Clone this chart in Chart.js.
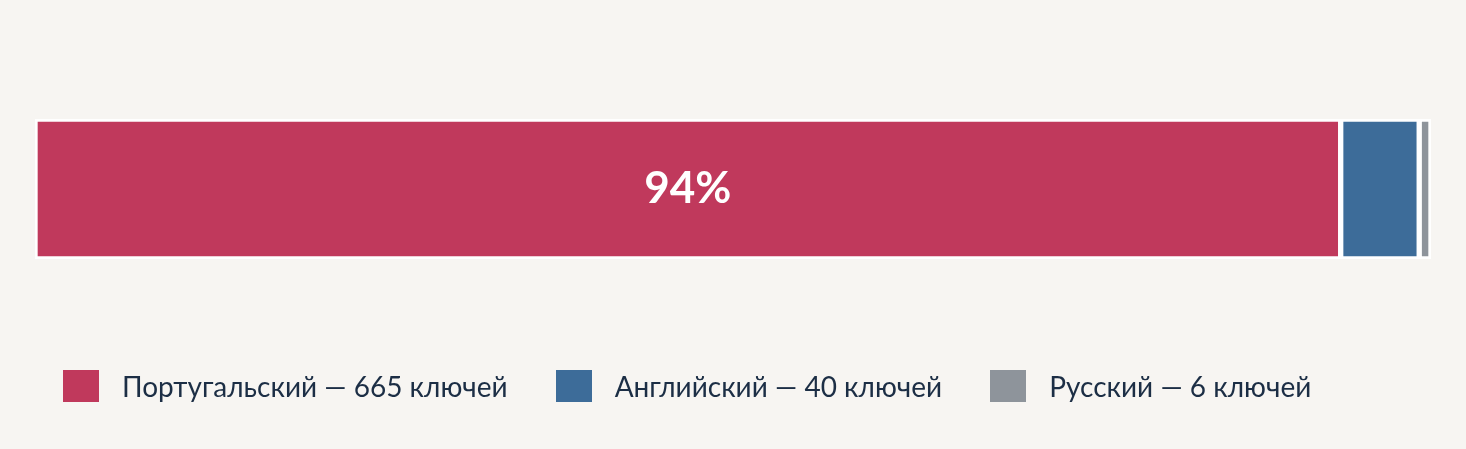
<!DOCTYPE html>
<html>
<head>
<meta charset="utf-8">
<script src="https://cdn.jsdelivr.net/npm/chart.js@4.4.1/dist/chart.umd.min.js"></script>
<style>
  html, body { margin: 0; padding: 0; background: #f7f5f2; }
  #wrap { position: relative; width: 1466px; height: 449px; }
  #legend { position: absolute; left: 63px; top: 369px; display: flex; align-items: center;
    font-family: Lato, sans-serif; font-size: 28px; color: #1c2e45; }
  #legend .item { display: flex; align-items: center; margin-right: 48px; white-space: nowrap; }
  #legend .box { width: 36px; height: 32px; margin-right: 23px; }
</style>
</head>
<body>
<div id="wrap">
  <canvas id="chart" width="1466" height="449"></canvas>
  <div id="legend"></div>
</div>
<script>
const languages = ['Португальский', 'Английский', 'Русский']
const keyCounts = [665, 40, 6]
const colors = ['#c0395c', '#3d6c99', '#8e949b']
const total = keyCounts.reduce((a, b) => a + b, 0)

// percent label inside the big segment
const pctLabels = {
  id: 'pctLabels',
  afterDatasetsDraw(chart) {
    const ctx = chart.ctx
    chart.data.datasets.forEach((ds, i) => {
      const pct = Math.round(ds.data[0] / total * 100)
      if (pct < 10) return
      const bar = chart.getDatasetMeta(i).data[0]
      const { x, base, y } = bar.getProps(['x', 'base', 'y'], true)
      ctx.save()
      ctx.fillStyle = '#ffffff'
      ctx.font = 'bold 44px Lato, sans-serif'
      ctx.textAlign = 'center'
      ctx.textBaseline = 'middle'
      ctx.fillText(pct + '%', (x + base) / 2, y)
      ctx.restore()
    })
  }
}

const ctx = document.querySelector('#chart').getContext('2d')
new Chart(ctx, {
  type: 'bar',
  data: {
    labels: [''],
    datasets: languages.map((name, i) => ({
      label: name + ' — ' + keyCounts[i] + ' ключей',
      data: [keyCounts[i]],
      backgroundColor: colors[i],
      borderColor: '#ffffff',
      borderWidth: 3,
      borderSkipped: false,
      barPercentage: 1,
      categoryPercentage: 1,
    }))
  },
  options: {
    responsive: false,
    animation: false,
    indexAxis: 'y',
    layout: {
      padding: { left: 35, right: 35, top: 119, bottom: 190 }
    },
    plugins: {
      legend: { display: false },
      tooltip: { enabled: false }
    },
    scales: {
      x: { stacked: true, min: 0, max: total, display: false },
      y: { stacked: true, display: false }
    }
  },
  plugins: [pctLabels]
})

const legendEl = document.querySelector('#legend')
languages.forEach((name, i) => {
  const item = document.createElement('div')
  item.className = 'item'
  const box = document.createElement('span')
  box.className = 'box'
  box.style.background = colors[i]
  const txt = document.createElement('span')
  txt.textContent = name + ' — ' + keyCounts[i] + ' ключей'
  item.appendChild(box)
  item.appendChild(txt)
  legendEl.appendChild(item)
})
</script>
</body>
</html>
